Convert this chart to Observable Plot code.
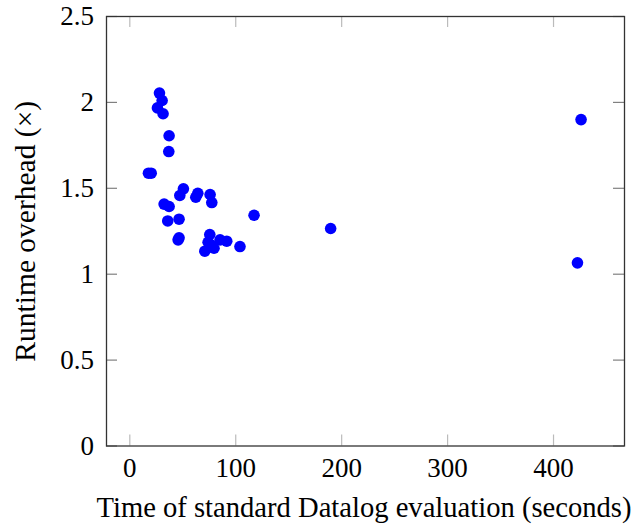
<!DOCTYPE html>
<html>
<head>
<meta charset="utf-8">
<script src="https://cdn.jsdelivr.net/npm/d3@7"></script>
<script src="https://cdn.jsdelivr.net/npm/@observablehq/plot@0.6"></script>
<style>
  html, body { margin: 0; padding: 0; background: #fff; }
  #chart svg { display: block; }
</style>
</head>
<body>
<div id="chart"></div>
<script>
// Time of standard Datalog evaluation (seconds)
const times = [
  28.0, 30.5, 26.1, 31.4, 37.1, 36.8,
  17.6, 20.2,
  50.6, 47.2, 64.2, 62.3, 75.8, 77.4,
  32.4, 37.1, 35.8, 46.5,
  46.5, 45.6,
  117.3,
  75.5, 70.8, 79.5, 73.9, 85.2, 91.5, 104.0, 77.0,
  189.6, 422.6, 426.0
];
// Runtime overhead (x)
const overheads = [
  2.054, 2.011, 1.968, 1.934, 1.806, 1.714,
  1.588, 1.588,
  1.497, 1.458, 1.471, 1.448, 1.464, 1.417,
  1.408, 1.394, 1.310, 1.320,
  1.212, 1.200,
  1.343,
  1.231, 1.134, 1.151, 1.186, 1.200, 1.192, 1.161, 1.170,
  1.266, 1.066, 1.900
];
const xTicks = [0, 100, 200, 300, 400];
const yTicks = [0, 0.5, 1, 1.5, 2, 2.5];
const xLabel = "Time of standard Datalog evaluation (seconds)";
const yLabel = "Runtime overhead (×)";

const data = times.map((t, i) => ({t, o: overheads[i]}));

const W = 638, H = 524;
const mL = 106, mR = 14, mT = 16, mB = 78.5;
const innerH = H - mT - mB, innerW = W - mL - mR;
const tickLen = 11;
const serif = "'Liberation Serif', 'DejaVu Serif', serif";

const plot = Plot.plot({
  width: W, height: H,
  marginLeft: mL, marginRight: mR, marginTop: mT, marginBottom: mB,
  style: {fontFamily: serif, fontSize: "27px", background: "#fff", color: "#000"},
  x: {domain: [-22, 467], ticks: xTicks},
  y: {domain: [0, 2.5], ticks: yTicks},
  marks: [
    Plot.tickX(xTicks, {x: d => d, stroke: "#bbb", strokeWidth: 1.2, insetTop: innerH - tickLen}),
    Plot.tickX(xTicks, {x: d => d, stroke: "#bbb", strokeWidth: 1.2, insetBottom: innerH - tickLen}),
    Plot.tickY(yTicks, {y: d => d, stroke: "#808080", strokeWidth: 1.2, insetRight: innerW - tickLen}),
    Plot.tickY(yTicks, {y: d => d, stroke: "#808080", strokeWidth: 1.2, insetLeft: innerW - tickLen}),
    Plot.frame({stroke: "#333", strokeWidth: 1.3}),
    Plot.axisX(xTicks, {tickSize: 0, tickPadding: 12, fontSize: 27, label: null, tickFormat: d => String(d)}),
    Plot.axisY(yTicks, {tickSize: 0, tickPadding: 12.5, fontSize: 27, label: null, tickFormat: d => String(d)}),
    Plot.text([xLabel], {frameAnchor: "bottom", textAnchor: "middle", dx: -1.5, dy: 70.5, fontSize: 28.6, fill: "#000"}),
    Plot.text([yLabel], {frameAnchor: "left", textAnchor: "middle", dx: -81, rotate: -90, fontSize: 29.5, fill: "#000"}),
    Plot.dot(data, {x: "t", y: "o", r: 5.8, fill: "#0000ff", stroke: "none"})
  ]
});
document.getElementById("chart").appendChild(plot);
</script>
</body>
</html>
